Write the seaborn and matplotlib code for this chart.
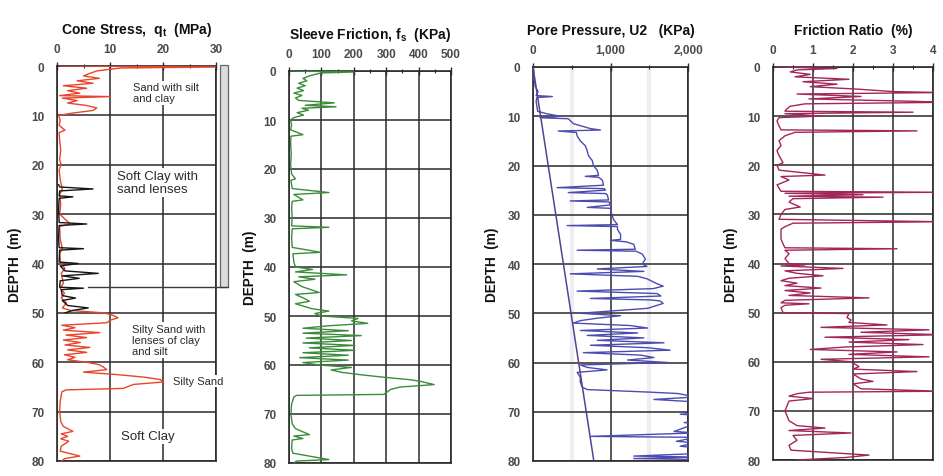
import matplotlib
matplotlib.use("Agg")
import matplotlib.pyplot as plt
import seaborn as sns
from matplotlib.ticker import MultipleLocator, FuncFormatter
from matplotlib.patches import Rectangle

# ---------------- CPT profile data (depth in m) ----------------
# Cone stress qt (MPa)
qt_depth = [0.0, 0.2, 0.4, 0.8, 1.0, 1.5, 2.0, 2.5, 3.0, 3.5, 4.0, 4.5, 5.0, 5.5, 6.0, 6.2, 6.5,
            7.0, 7.5, 8.0, 8.5, 9.0, 9.5, 10.0, 11, 12, 13, 13.5, 15, 17, 19, 20, 21, 23, 25, 26,
            28, 30, 32, 32.5, 35, 37, 38, 40, 41, 42, 44, 45, 46, 47, 48, 49, 49.5, 50, 50.5,
            51, 51.5, 52, 52.5, 53, 53.5, 54, 54.5, 55, 55.5, 56, 56.5, 57, 57.5, 58, 58.5, 59,
            59.5, 60, 60.5, 61, 61.5, 62, 62.5, 63, 63.5, 64, 64.5, 65, 65.3, 65.6, 66, 68, 70,
            72, 73, 74, 74.5, 75, 75.5, 76, 77, 78, 79, 79.5, 80]
qt_value = [0.5, 30.5, 12, 9, 7.5, 6.2, 5, 8, 3.8, 6.8, 1.2, 5.6, 2, 4.3, 0.5, 10, 1,
            3.8, 2, 5.6, 7.5, 6.8, 3.2, 0.3, 0.6, 0.4, 1.5, 0.4, 0.5, 0.7, 0.5, 0.8, 0.4, 0.6, 1.0, 0.5,
            0.7, 0.5, 2.5, 0.5, 0.6, 1.0, 0.5, 0.7, 1.5, 0.8, 1.2, 0.6, 1.4, 0.8, 1.8, 1.0, 2.5, 8.8, 10.6,
            11.5, 10, 9.4, 0.9, 3.4, 1.2, 8.1, 1.7, 5.6, 1.2, 4.4, 1.5, 6.2, 2, 5.6, 1.4, 3.4,
            2, 5.6, 8, 8.8, 9.4, 5, 11.3, 16.3, 19.5, 20, 14.4, 13.2, 12.5, 1.7, 0.9, 0.6, 0.5,
            0.7, 1.2, 3, 0.8, 2, 0.7, 2.2, 0.8, 0.6, 4.3, 1.5, 0.8]

# Second cone stress trace through the clay layer (MPa)
qt2_depth = [24.0, 24.5, 24.9, 25.3, 26.3, 26.5, 26.8, 29, 31.7, 32, 32.3, 35, 36.8, 37, 37.3,
             39.7, 40, 40.5, 41.5, 42, 42.5, 43, 43.5, 44.8, 45, 45.3, 46.5, 47, 47.5, 48.5,
             49, 49.5, 50]
qt2_value = [0.3, 0.5, 6.8, 0.5, 0.4, 3, 0.4, 0.3, 0.4, 5.6, 0.4, 0.3, 0.4, 5, 0.5,
             0.4, 4, 0.6, 1.5, 7.8, 1, 4.2, 0.6, 0.5, 5, 0.8, 1, 3.5, 1, 2,
             5.9, 3, 1.5]

# Sleeve friction fs (kPa)
fs_depth = [0.0, 0.2, 0.4, 0.7, 1.0, 1.5, 2.0, 2.5, 3.0, 3.5, 4.0, 4.5, 5.0, 5.5, 6.0, 6.5, 7.0,
            7.3, 7.6, 8.0, 8.5, 9.0, 9.5, 10.0, 11, 12, 13, 13.3, 15, 17, 19, 21, 22, 22.3, 24,
            24.8, 25.2, 25.8, 26.3, 26.6, 28, 30, 31.6, 31.9, 32.2, 34, 36, 37, 37.3, 39, 40,
            40.5, 41, 41.6, 42, 42.5, 43, 44, 45.2, 45.6, 46.5, 47, 47.5, 48.5, 49, 49.5, 50,
            50.5, 51, 51.5, 52, 52.5, 53, 53.5, 54, 54.5, 55, 55.5, 56, 56.5, 57, 57.5, 58, 58.5,
            59, 59.5, 60, 60.5, 61, 61.5, 62, 62.5, 63, 63.3, 64, 64.5, 65, 65.5, 66, 66.2, 66.5,
            68, 70, 72, 73, 74.2, 74.5, 75, 75.3, 77, 78, 79.3, 79.6, 80]
fs_value = [5, 200, 100, 80, 63, 43, 55, 30, 50, 25, 45, 15, 40, 20, 30, 140, 50,
            145, 40, 60, 25, 45, 15, 5, 8, 5, 43, 6, 5, 7, 5, 8, 20, 6, 10,
            123, 15, 30, 43, 10, 8, 10, 8, 123, 10, 8, 10, 98, 12, 15, 20,
            73, 20, 178, 30, 80, 15, 40, 93, 20, 50, 63, 20, 70, 123, 80, 100,
            213, 193, 243, 120, 43, 183, 43, 223, 53, 193, 43, 203, 63, 203, 43, 183, 33,
            183, 43, 93, 193, 130, 163, 223, 293, 373, 403, 448, 343, 313, 303, 293, 23, 15,
            8, 6, 10, 20, 63, 15, 43, 10, 8, 12, 123, 23, 15]

# Pore pressure u2 (kPa)
u2_depth = [0, 1, 2, 3, 4, 5, 5.8, 6, 6.2, 7, 8, 9, 9.5, 10, 10.3, 10.5, 11.5, 12.5, 12.8, 13,
            13.3, 14, 15, 16, 17, 18, 19, 20, 21, 22, 22.2, 22.4, 23, 24, 24.5, 24.7, 25, 25.5,
            25.7, 26, 27, 27.2, 27.4, 28, 28.5, 28.7, 29, 30, 31, 32, 32.2, 32.4, 33, 34, 35,
            35.2, 35.5, 36, 37, 37.2, 37.4, 38, 39, 40, 40.5, 41, 41.5, 42, 42.5, 43, 44, 44.5,
            45, 45.5, 46, 46.5, 47, 47.3, 47.5, 48, 49, 49.5, 50, 50.5, 51, 51.5, 52, 52.5, 53,
            53.5, 54, 54.5, 55, 55.5, 56, 56.5, 57, 57.5, 58, 58.5, 59, 59.5, 60, 60.5, 61, 61.5,
            62, 63, 64, 65, 65.5, 66, 66.3, 67, 67.5, 68, 70.3, 70.5, 70.7, 72, 72.2, 72.4, 74,
            74.3, 75, 75.2, 76, 76.3, 77, 77.3, 78.5, 79, 79.2, 79.5, 79.7, 80]
u2_value = [0, 10, 5, 20, 30, 65, 40, 250, 50, 40, 50, 60, 180, 350, 90, 455, 520, 740, 870, 325,
            560, 570, 610, 675, 700, 715, 765, 780, 830, 845, 675, 850, 895, 910, 310, 920, 935, 455,
            940, 960, 975, 480, 980, 1000, 700, 1000, 1000, 1020, 1040, 1090, 440, 1090, 1090, 1130, 1130,
            1000, 1200, 1300, 1320, 570, 1330, 1410, 1450, 1410, 1470, 830, 1430, 480, 1350, 1470, 1600, 1680,
            1550, 570, 1600, 1650, 740, 1520, 1640, 1680, 1480, 1040, 610, 1130, 830, 610, 520, 1260, 1480,
            610, 1350, 700, 1430, 830, 1690, 740, 1480, 1770, 650, 1390, 1560, 1220, 1740, 610, 700, 955,
            570, 610, 610, 635, 700, 1480, 1870, 2100, 1560, 2100, 2100, 1900, 2100, 2100, 1950, 2100, 1820,
            2100, 740, 2100, 1850, 2100, 1900, 2100, 2100, 1300, 2100, 1300, 2100, 2100]

# Hydrostatic pressure line (kPa)
u0_depth = [0, 80]
u0_value = [0, 785]

# Friction ratio Rf (%)
rf_depth = [0, 0.3, 0.6, 1.0, 1.5, 2.0, 2.5, 3.0, 3.5, 4.0, 4.5, 5.0, 5.2, 5.5, 6.0, 6.5, 7.0, 7.2,
            7.5, 8.0, 8.5, 9.0, 9.2, 9.5, 10.0, 10.3, 11, 12, 12.8, 13, 13.3, 14, 15, 16, 17, 18,
            19.5, 20, 21, 22, 22.3, 23, 24, 25.3, 25.5, 25.7, 26, 26.3, 26.5, 26.8, 27.5, 28.5, 29,
            30, 31, 31.5, 31.8, 32.5, 33, 35, 36, 36.8, 37, 37.3, 38, 39, 40, 40.3, 40.5, 41, 41.5,
            42, 42.5, 43, 43.5, 44, 44.5, 45, 45.5, 46, 46.5, 47, 47.5, 48, 48.2, 48.5, 49, 50, 50.2,
            51, 51.5, 52, 52.5, 53, 53.5, 54, 54.5, 55, 55.5, 56, 56.5, 57, 57.5, 58, 58.5, 59, 59.5,
            60, 60.5, 61, 61.5, 62, 62.5, 63, 63.5, 64, 64.5, 65, 65.5, 66, 66.2, 66.5, 67, 67.5, 68,
            69, 70, 71, 72, 73, 73.5, 74, 74.5, 75, 76, 77, 78, 79, 79.5, 80]
rf_value = [0.1, 1.6, 0.6, 0.43, 0.93, 0.55, 1.9, 0.75, 1.6, 0.93, 2.1, 3.0, 4.2, 0.6, 2.2, 0.9, 3.6, 4.2,
            0.8, 0.43, 0.35, 0.3, 3.5, 0.3, 1.2, 0.15, 0.1, 0.15, 0.2, 3.6, 0.55, 0.3, 0.15, 0.2, 0.1, 0.15,
            0.25, 0.1, 0.15, 1.3, 0.2, 0.4, 0.1, 0.2, 4.2, 0.3, 2.25, 0.4, 2.75, 0.5, 0.4, 0.68, 0.3,
            0.2, 0.15, 4.2, 0.5, 0.3, 0.2, 0.2, 0.25, 0.3, 3.1, 0.3, 0.4, 0.3, 0.4, 0.8, 0.2, 1.75, 0.3,
            0.6, 1.25, 0.4, 0.2, 0.6, 0.3, 1.2, 0.3, 0.93, 0.4, 2.4, 0.3, 0.2, 0.9, 0.3, 0.2, 0.25, 1.9,
            1.85, 1.95, 1.9, 2.85, 1.2, 3.9, 2.2, 4.2, 1.3, 3.4, 1.9, 3.75, 1.8, 0.93, 3.1, 1.9, 3.9, 1.2,
            1.95, 2.05, 2.15, 2.0, 3.6, 2.0, 2.1, 2.2, 2.5, 2.0, 2.1, 2.2, 4.2, 0.9, 0.6, 0.4, 1.0, 0.4,
            0.35, 0.3, 0.35, 0.4, 0.6, 1.3, 0.4, 1.95, 0.5, 0.6, 0.4, 0.45, 2.4, 1.8, 0.6]

# Soil layer descriptions
layer_text = ["Sand with silt\nand clay", "Soft Clay with\nsand lenses",
              "Silty Sand with\nlenses of clay\nand silt", "Silty Sand", "Soft Clay"]
layer_x = [14.4, 11.3, 14.2, 21.8, 12.0]
layer_depth = [5.4, 23.6, 55.5, 63.8, 75.0]
layer_size = [8.0, 9.5, 8.0, 8.0, 9.5]

# ---------------- styling ----------------
sns.set_style("white")
plt.rcParams["font.family"] = ["Liberation Sans", "DejaVu Sans"]
plt.rcParams["mathtext.fontset"] = "custom"
plt.rcParams["mathtext.rm"] = "Liberation Sans"
plt.rcParams["mathtext.bf"] = "Liberation Sans:bold"
plt.rcParams["mathtext.it"] = "Liberation Sans:italic"

GRID = "#2a2a2a"
TICK = "#4a4a4a"

fig = plt.figure(figsize=(9.43, 4.77), dpi=100)
W, H = 943.0, 477.0


def make_axes(x0, x1, ytop, ybot):
    return fig.add_axes([x0 / W, 1 - ybot / H, (x1 - x0) / W, (ybot - ytop) / H])


def style_axes(ax, xmax, xmajor, xminor, title, ylabel_off, fmt=None, faint=None):
    ax.set_xlim(0, xmax)
    ax.set_ylim(80, 0)
    ax.xaxis.tick_top()
    ax.xaxis.set_major_locator(MultipleLocator(xmajor))
    ax.xaxis.set_minor_locator(MultipleLocator(xminor))
    ax.yaxis.set_major_locator(MultipleLocator(10))
    ax.yaxis.set_minor_locator(MultipleLocator(2))
    if fmt is not None:
        ax.xaxis.set_major_formatter(fmt)
    ax.tick_params(axis="both", which="major", direction="inout", length=6, width=1.0,
                   color=GRID, labelsize=8.5, labelcolor=TICK, pad=6)
    ax.tick_params(axis="x", which="major", pad=5)
    ax.tick_params(axis="both", which="minor", direction="inout", length=3, width=0.8,
                   color=GRID)
    for lab in ax.get_xticklabels() + ax.get_yticklabels():
        lab.set_fontweight("bold")
    if faint is not None:
        for v in faint:
            ax.axvline(v, color="#ededf3", lw=3, zorder=0)
    ax.grid(True, which="major", color=GRID, lw=1.1, zorder=1)
    for s in ax.spines.values():
        s.set_visible(True)
        s.set_color(GRID)
        s.set_linewidth(1.2)
    ax.set_xlabel("")
    ax.set_ylabel("DEPTH  (m)", fontsize=9.8, fontweight="bold", color="#111111")
    ax.yaxis.set_label_coords(ylabel_off, 0.5)
    ax.text(0.5, 1.094, title, transform=ax.transAxes, ha="center", va="center",
            fontsize=10, fontweight="bold", color="#111111")


def trace(ax, depth, value, color, lw=1.0):
    sns.lineplot(x=value, y=depth, orient="y", sort=False, estimator=None,
                 color=color, lw=lw, ax=ax, zorder=3)


# Panel 1: cone stress
ax1 = make_axes(57, 216, 67, 462)
trace(ax1, qt_depth, qt_value, "#e8452a")
trace(ax1, qt2_depth, qt2_value, "#151515")
style_axes(ax1, 30, 10, 5, r"Cone Stress,  $\mathbf{q_t}$  (MPa)", -35 / 159)
for t, x, d, s in zip(layer_text, layer_x, layer_depth, layer_size):
    ax1.text(x, d, t, ha="left", va="center", fontsize=s, color="#2a2a2a",
             linespacing=1.15, zorder=5, clip_on=False,
             bbox=dict(facecolor="white", edgecolor="none", pad=1.0))
# bracket marking the upper profile interval
ax1.add_patch(Rectangle((30.7, -0.3), 1.5, 45.1, facecolor="#dcdcdc", edgecolor="#666666",
                        lw=0.9, clip_on=False, zorder=4))
ax1.plot([5.9, 32.2], [44.8, 44.8], color="#3a3a3a", lw=1.0, clip_on=False, zorder=4)

# Panel 2: sleeve friction
ax2 = make_axes(289, 451, 72, 464)
trace(ax2, fs_depth, fs_value, "#3a8c3a")
style_axes(ax2, 500, 100, 50, r"Sleeve Friction, $\mathbf{f_s}$  (KPa)", -32 / 162)

# Panel 3: pore pressure
ax3 = make_axes(533, 688, 68, 462)
trace(ax3, u2_depth, u2_value, "#4b4cb0")
trace(ax3, u0_depth, u0_value, "#5a3f92", lw=1.1)
style_axes(ax3, 2000, 1000, 500, "Pore Pressure, U2   (KPa)", -34 / 155,
           fmt=FuncFormatter(lambda v, p: f"{int(v):,}"), faint=[500, 1500])

# Panel 4: friction ratio
ax4 = make_axes(773, 933, 68, 461)
trace(ax4, rf_depth, rf_value, "#a3265a")
style_axes(ax4, 4, 1, 0.5, "Friction Ratio  (%)", -35 / 160)

fig.savefig("out.png", dpi=100, facecolor="white")
